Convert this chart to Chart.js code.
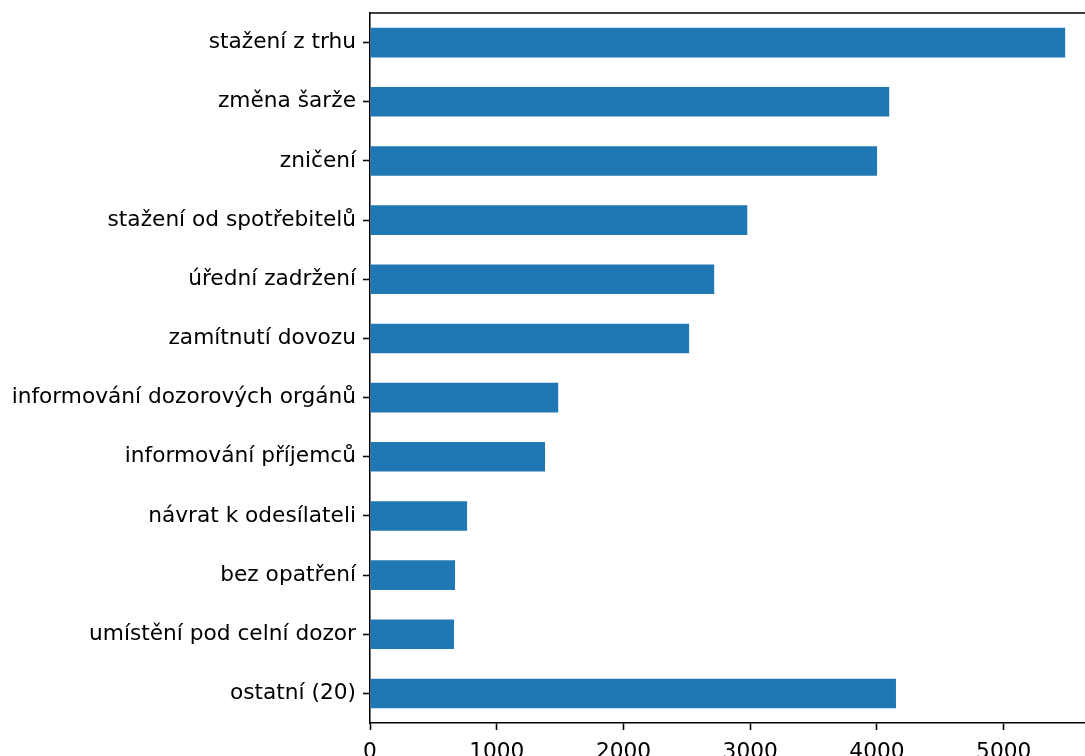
<!DOCTYPE html>
<html>
<head>
<meta charset="utf-8">
<script src="https://cdn.jsdelivr.net/npm/chart.js@4/dist/chart.umd.min.js"></script>
<style>
  html, body { margin: 0; padding: 0; background: #fff; overflow: hidden; }
  #wrap { width: 1085px; height: 756px; overflow: hidden; }
</style>
</head>
<body>
<div id="wrap"><canvas id="chart" width="1120" height="756"></canvas></div>
<script>
// kategorie opatření (shora dolů)
const categories = [
  'stažení z trhu',
  'změna šarže',
  'zničení',
  'stažení od spotřebitelů',
  'úřední zadržení',
  'zamítnutí dovozu',
  'informování dozorových orgánů',
  'informování příjemců',
  'návrat k odesílateli',
  'bez opatření',
  'umístění pod celní dozor',
  'ostatní (20)'
];

// počty
const counts = [5485, 4097, 4001, 2977, 2716, 2518, 1485, 1381, 766, 671, 663, 4150];

const xTicks = [0, 1000, 2000, 3000, 4000, 5000];
const xMax = 5760;

const FONT = { family: 'DejaVu Sans', size: 21.7 };
const LINE = 1.56;

// horní linka rámu grafu
const topSpine = {
  id: 'topSpine',
  afterDraw(chart) {
    const { ctx, chartArea } = chart;
    ctx.save();
    ctx.strokeStyle = '#000';
    ctx.lineWidth = LINE;
    ctx.beginPath();
    ctx.moveTo(chartArea.left, chartArea.top);
    ctx.lineTo(chartArea.right + 20, chartArea.top);
    ctx.stroke();
    ctx.restore();
  }
};

new Chart(document.getElementById('chart'), {
  type: 'bar',
  data: {
    labels: categories,
    datasets: [{
      data: counts,
      backgroundColor: '#1f77b4',
      barPercentage: 0.5,
      categoryPercentage: 1.0
    }]
  },
  options: {
    indexAxis: 'y',
    responsive: false,
    animation: false,
    events: [],
    layout: { padding: { top: 13, right: 20, bottom: 0, left: 0 } },
    plugins: {
      legend: { display: false },
      tooltip: { enabled: false }
    },
    scales: {
      x: {
        min: 0,
        max: xMax,
        afterFit(scale) {
          scale.height = 33;
          scale.paddingLeft = 0;
          scale.paddingRight = 0;
        },
        afterBuildTicks(scale) { scale.ticks = xTicks.map(v => ({ value: v })); },
        ticks: {
          includeBounds: false,
          color: '#000',
          font: FONT,
          padding: 9,
          maxRotation: 0,
          callback: v => String(v)
        },
        grid: {
          drawOnChartArea: false,
          drawTicks: true,
          tickLength: 7,
          tickWidth: LINE,
          tickColor: '#000'
        },
        border: { display: true, color: '#000', width: LINE }
      },
      y: {
        afterFit(scale) {
          scale.width = 370;
          scale.paddingTop = 0;
          scale.paddingBottom = 0;
        },
        ticks: {
          color: '#000',
          font: FONT,
          padding: 7,
          autoSkip: false
        },
        grid: {
          offset: false,
          drawOnChartArea: false,
          drawTicks: true,
          tickLength: 7,
          tickWidth: LINE,
          tickColor: '#000'
        },
        border: { display: true, color: '#000', width: LINE }
      }
    }
  },
  plugins: [topSpine]
});
</script>
</body>
</html>
